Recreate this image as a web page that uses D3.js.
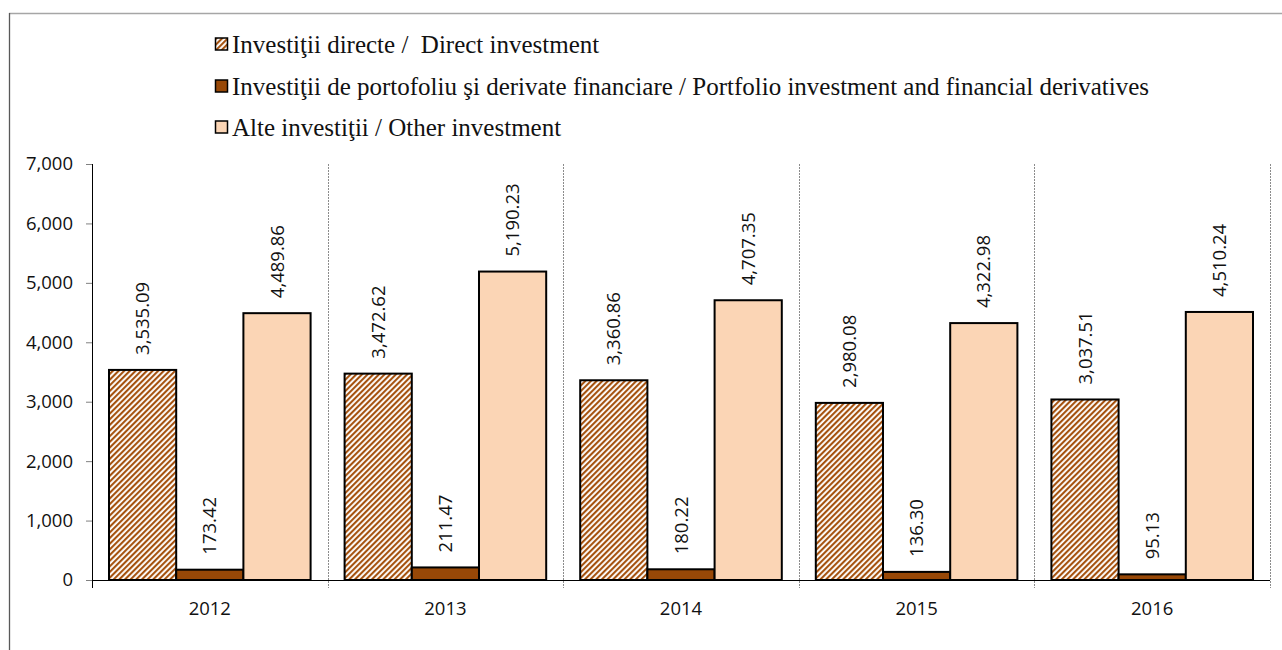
<!DOCTYPE html>
<html>
<head>
<meta charset="utf-8">
<script src="https://cdn.jsdelivr.net/npm/d3@7"></script>
<style>
  html, body { margin: 0; padding: 0; background: #fff; }
  svg { display: block; }
</style>
</head>
<body>
<svg id="chart" width="1282" height="650"></svg>
<script>
// Years on the category axis
const years = ["2012", "2013", "2014", "2015", "2016"];

// Series values (mil. EUR)
const directInvestment = [3535.09, 3472.62, 3360.86, 2980.08, 3037.51];
const portfolioInvestment = [173.42, 211.47, 180.22, 136.30, 95.13];
const otherInvestment = [4489.86, 5190.23, 4707.35, 4322.98, 4510.24];

// Legend labels
const seriesNames = [
  "Investiţii directe /  Direct investment",
  "Investiţii de portofoliu şi derivate financiare / Portfolio investment and financial derivatives",
  "Alte investiţii / Other investment"
];

// Value axis ticks
const yTicks = [0, 1000, 2000, 3000, 4000, 5000, 6000, 7000];

const svg = d3.select("#chart");
const numFont = "'Open Sans', 'DejaVu Sans', sans-serif";
const legendFont = "'Liberation Serif', 'DejaVu Serif', serif";

// Diagonal hatch used for direct investment
const defs = svg.append("defs");
const pat = defs.append("pattern")
  .attr("id", "hatch")
  .attr("patternUnits", "userSpaceOnUse")
  .attr("width", 4)
  .attr("height", 4)
  .attr("patternTransform", "rotate(45)");
pat.append("rect").attr("width", 4).attr("height", 4).attr("fill", "#ffffff");
pat.append("line")
  .attr("x1", 1).attr("y1", 0).attr("x2", 1).attr("y2", 4)
  .attr("stroke", "#A5520F").attr("stroke-width", 2.2);

const fills = ["url(#hatch)", "#984807", "#FBD5B5"];
const series = [directInvestment, portfolioInvestment, otherInvestment];

// Frame around the plot area
svg.append("line")
  .attr("x1", 9).attr("x2", 1282).attr("y1", 13.5).attr("y2", 13.5)
  .attr("stroke", "#a6a6a6").attr("stroke-width", 1.5);
svg.append("line")
  .attr("x1", 9.5).attr("x2", 9.5).attr("y1", 13).attr("y2", 650)
  .attr("stroke", "#595959").attr("stroke-width", 1.3);

// Scales
const y = d3.scaleLinear().domain([0, 7000]).range([580, 164]);
const x0 = d3.scaleBand().domain(years).range([92, 1270]).padding(0);
const x1 = d3.scaleBand().domain([0, 1, 2]).range([0, x0.bandwidth()])
  .paddingInner(0).paddingOuter(0.253);

// Dashed separators between years
svg.append("g").selectAll("line")
  .data(years.slice(1).concat(["end"]))
  .join("line")
  .attr("x1", (d, i) => i < years.length - 1 ? x0(d) : x0.range()[1])
  .attr("x2", (d, i) => i < years.length - 1 ? x0(d) : x0.range()[1])
  .attr("y1", y(7000))
  .attr("y2", y(0) + 8)
  .attr("stroke", "#8c8c8c")
  .attr("stroke-width", 1)
  .attr("stroke-dasharray", "2,1")
  .attr("shape-rendering", "crispEdges")
  .attr("transform", "translate(0.5,0)");

// Y axis
const yAxis = svg.append("g")
  .attr("transform", "translate(92,0)")
  .call(d3.axisLeft(y).tickValues(yTicks).tickFormat(d3.format(",")).tickSize(6).tickPadding(13));
yAxis.select(".domain").attr("stroke", "#000").attr("stroke-width", 1)
  .attr("d", `M0.5,${y(7000)}V${y(0) + 8}`);
yAxis.selectAll(".tick line").attr("stroke", "#808080");
yAxis.selectAll(".tick text")
  .attr("font-family", numFont).attr("font-size", 18.5).attr("fill", "#111");

// Bars
const groups = svg.append("g").selectAll("g")
  .data(years)
  .join("g")
  .attr("transform", d => `translate(${x0(d)},0)`);

groups.selectAll("rect")
  .data((d, i) => series.map((s, k) => ({ k, v: s[i] })))
  .join("rect")
  .attr("x", d => x1(d.k))
  .attr("y", d => y(d.v))
  .attr("width", x1.bandwidth())
  .attr("height", d => y(0) - y(d.v))
  .attr("fill", d => fills[d.k])
  .attr("stroke", "#000")
  .attr("stroke-width", 2);

// Value labels, rotated above each bar
groups.selectAll("text.val")
  .data((d, i) => series.map((s, k) => ({ k, v: s[i] })))
  .join("text")
  .attr("class", "val")
  .attr("transform", d => `translate(${x1(d.k) + x1.bandwidth() / 2},${y(d.v) - 15}) rotate(-90)`)
  .attr("dy", "0.36em")
  .attr("text-anchor", "start")
  .attr("font-family", numFont)
  .attr("font-size", 18.5)
  .attr("fill", "#111")
  .text(d => d3.format(",.2f")(d.v));

// X axis line and year labels
svg.append("line")
  .attr("x1", 92).attr("x2", 1270).attr("y1", y(0) + 0.5).attr("y2", y(0) + 0.5)
  .attr("stroke", "#000").attr("stroke-width", 1);
svg.append("g").selectAll("text")
  .data(years)
  .join("text")
  .attr("x", d => x0(d) + x0.bandwidth() / 2)
  .attr("y", 615)
  .attr("text-anchor", "middle")
  .attr("font-family", numFont)
  .attr("font-size", 18.5)
  .attr("fill", "#111")
  .text(d => d);

// Legend
const legendRows = [44, 86, 127];
const legend = svg.append("g").selectAll("g")
  .data(seriesNames)
  .join("g")
  .attr("transform", (d, i) => `translate(215,${legendRows[i]})`);
legend.append("rect")
  .attr("x", 0.5).attr("y", -6).attr("width", 12).attr("height", 12)
  .attr("fill", (d, i) => fills[i])
  .attr("stroke", "#000").attr("stroke-width", 1.5);
legend.append("text")
  .attr("x", 17)
  .attr("dy", "0.34em")
  .attr("font-family", legendFont)
  .attr("font-size", 25)
  .attr("fill", "#111")
  .attr("style", "white-space: pre")
  .text(d => d);
</script>
</body>
</html>
